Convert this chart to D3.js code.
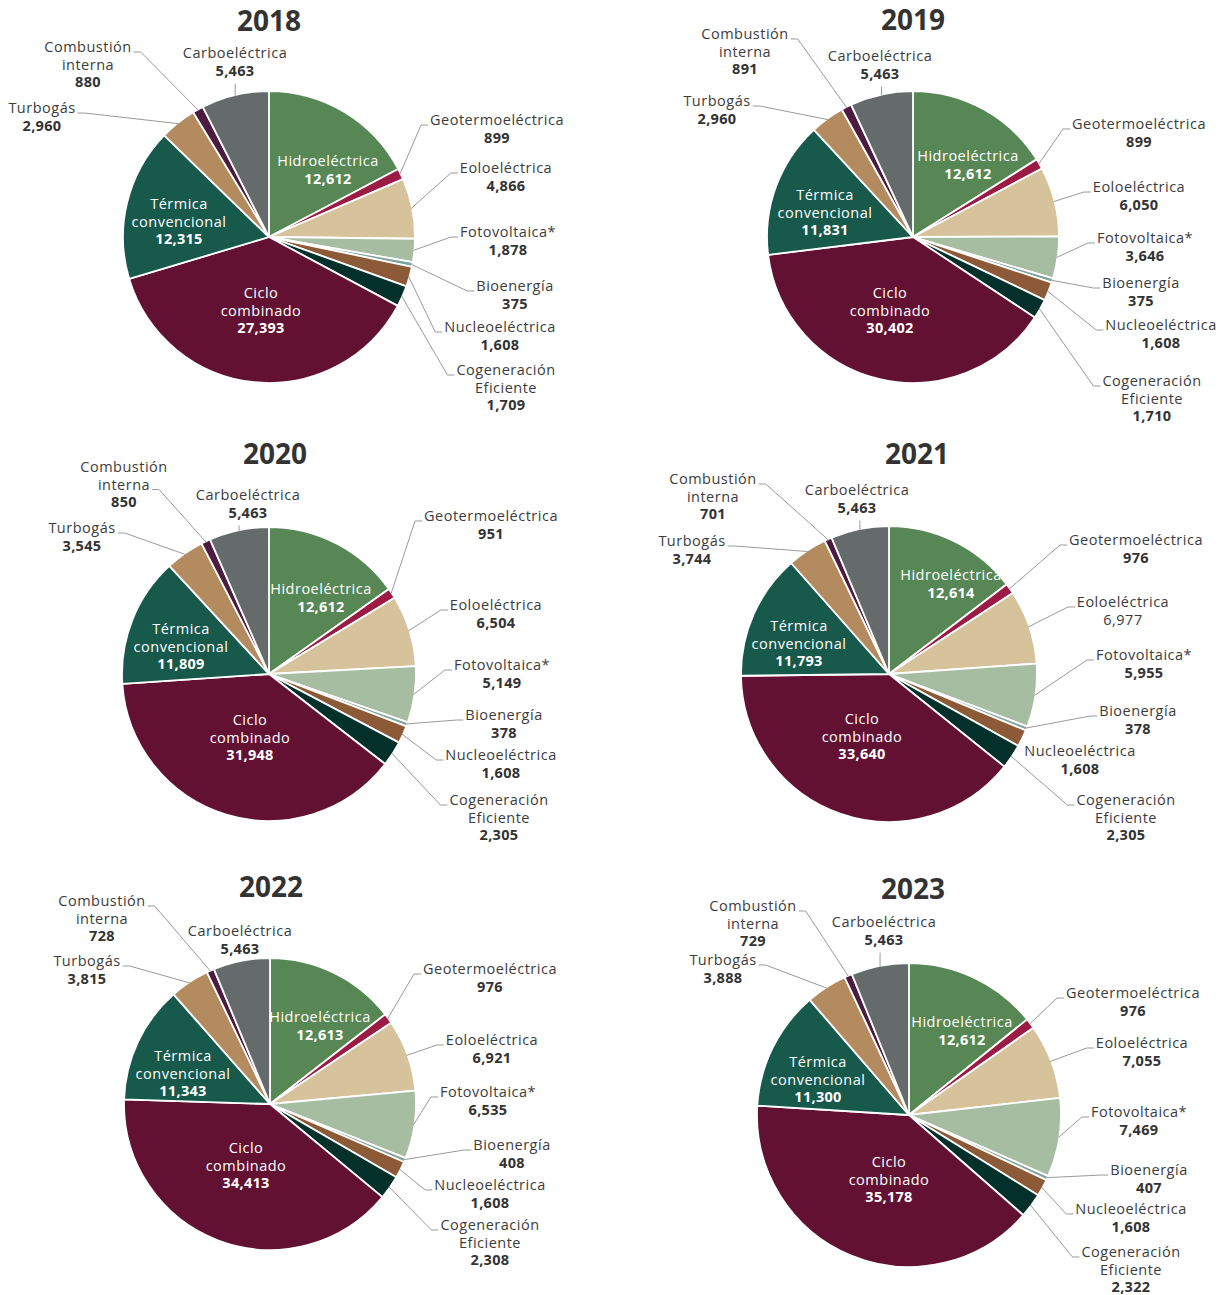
<!DOCTYPE html>
<meta charset="utf-8">

<script src="https://d3js.org/d3.v7.min.js"></script>

<style type="text/css">
  body { margin: 0; background: #fff; }
  text { font-family: "Open Sans", sans-serif; }
  .title { font-size: 28px; font-weight: 700; fill: #333; }
  .lbl { font-size: 14.5px; fill: #3c3c3c; letter-spacing: 0.5px; }
  .val { font-size: 14.5px; font-weight: 700; fill: #333; letter-spacing: 0.3px; }
  .in { font-size: 14.5px; fill: #fff; letter-spacing: 0.5px; }
  .inval { font-size: 14.5px; font-weight: 700; fill: #fff; letter-spacing: 0.3px; }
  .leader { fill: none; stroke: #9a9a9a; stroke-width: 1; }
</style>

<body>
</body>

<script>

var years = ["2018", "2019", "2020", "2021", "2022", "2023"];

var categories = ["Hidroeléctrica", "Geotermoeléctrica", "Eoloeléctrica", "Fotovoltaica*",
  "Bioenergía", "Nucleoeléctrica", "Cogeneración Eficiente", "Ciclo combinado",
  "Térmica convencional", "Turbogás", "Combustión interna", "Carboeléctrica"];

var values2018 = [12612, 899, 4866, 1878, 375, 1608, 1709, 27393, 12315, 2960, 880, 5463];
var values2019 = [12612, 899, 6050, 3646, 375, 1608, 1710, 30402, 11831, 2960, 891, 5463];
var values2020 = [12612, 951, 6504, 5149, 378, 1608, 2305, 31948, 11809, 3545, 850, 5463];
var values2021 = [12614, 976, 6977, 5955, 378, 1608, 2305, 33640, 11793, 3744, 701, 5463];
var values2022 = [12613, 976, 6921, 6535, 408, 1608, 2308, 34413, 11343, 3815, 728, 5463];
var values2023 = [12612, 976, 7055, 7469, 407, 1608, 2322, 35178, 11300, 3888, 729, 5463];

var colors = ["#578755", "#9c1b45", "#d6c39b", "#a7bda1", "#7fa39a", "#8c5a36",
  "#03302a", "#621132", "#17594b", "#b38b5e", "#4b1c40", "#656b6a"];

var allValues = [values2018, values2019, values2020, values2021, values2022, values2023];

// which slices carry their label inside the pie
var inside = { "Hidroeléctrica": 1, "Ciclo combinado": 1, "Térmica convencional": 1 };

var width = 1226, height = 1295;

// layout per panel: pie centre, radius, title, label offsets (block centre x, first line centre y)
var layout = [
  { cx: 269, cy: 237, r: 146, title: [269, 31],
    lab: { "Hidroeléctrica": [59, -76], "Ciclo combinado": [-8, 56], "Térmica convencional": [-90, -33],
      "Geotermoeléctrica": [228, -117], "Eoloeléctrica": [237, -69], "Fotovoltaica*": [239, -5],
      "Bioenergía": [246, 49], "Nucleoeléctrica": [231, 90], "Cogeneración Eficiente": [237, 133],
      "Turbogás": [-227, -129], "Combustión interna": [-181, -190], "Carboeléctrica": [-34, -184] } },
  { cx: 913, cy: 237, r: 146, title: [913, 30],
    lab: { "Hidroeléctrica": [55, -81], "Ciclo combinado": [-23, 56], "Térmica convencional": [-88, -42],
      "Geotermoeléctrica": [226, -113], "Eoloeléctrica": [226, -50], "Fotovoltaica*": [232, 1],
      "Bioenergía": [228, 46], "Nucleoeléctrica": [248, 88], "Cogeneración Eficiente": [239, 144],
      "Turbogás": [-196, -136], "Combustión interna": [-168, -203], "Carboeléctrica": [-33, -181] } },
  { cx: 269, cy: 674, r: 147, title: [275, 464], attach: { "Combustión interna": 1 },
    lab: { "Hidroeléctrica": [52, -85], "Ciclo combinado": [-19, 46], "Térmica convencional": [-88, -45],
      "Geotermoeléctrica": [222, -158], "Eoloeléctrica": [227, -69], "Fotovoltaica*": [233, -9],
      "Bioenergía": [235, 41], "Nucleoeléctrica": [232, 81], "Cogeneración Eficiente": [230, 126],
      "Turbogás": [-187, -146], "Combustión interna": [-145, -207], "Carboeléctrica": [-21, -179] } },
  { cx: 889, cy: 674, r: 148, title: [917, 464], plain: { "Eoloeléctrica": 1 },
    lab: { "Hidroeléctrica": [62, -99], "Ciclo combinado": [-27, 45], "Térmica convencional": [-90, -48],
      "Geotermoeléctrica": [247, -134], "Eoloeléctrica": [234, -72], "Fotovoltaica*": [255, -19],
      "Bioenergía": [249, 37], "Nucleoeléctrica": [191, 77], "Cogeneración Eficiente": [237, 126],
      "Turbogás": [-197, -133], "Combustión interna": [-176, -195], "Carboeléctrica": [-32, -184] } },
  { cx: 270, cy: 1104, r: 146, title: [271, 897],
    lab: { "Hidroeléctrica": [50, -87], "Ciclo combinado": [-24, 44], "Térmica convencional": [-87, -48],
      "Geotermoeléctrica": [220, -135], "Eoloeléctrica": [222, -64], "Fotovoltaica*": [218, -12],
      "Bioenergía": [242, 41], "Nucleoeléctrica": [220, 81], "Cogeneración Eficiente": [220, 121],
      "Turbogás": [-183, -143], "Combustión interna": [-168, -203], "Carboeléctrica": [-30, -173] } },
  { cx: 909, cy: 1115, r: 152, title: [913, 899],
    lab: { "Hidroeléctrica": [53, -93], "Ciclo combinado": [-20, 47], "Térmica convencional": [-91, -53],
      "Geotermoeléctrica": [224, -122], "Eoloeléctrica": [233, -72], "Fotovoltaica*": [230, -3],
      "Bioenergía": [240, 55], "Nucleoeléctrica": [222, 94], "Cogeneración Eficiente": [222, 137],
      "Turbogás": [-186, -155], "Combustión interna": [-156, -209], "Carboeléctrica": [-25, -193] } }
];

var lineH = 17.5;
var fmt = d3.format(",");

var svg = d3.select("body").append("svg")
    .attr("width", width)
    .attr("height", height);

var pie = d3.pie().sort(null).value(function(d) { return d.value; });

years.forEach(function(year, i) {
  var L = layout[i];
  var data = categories.map(function(c, j) { return { name: c, value: allValues[i][j], color: colors[j] }; });
  var arcs = pie(data);
  var arc = d3.arc().innerRadius(0).outerRadius(L.r);

  var g = svg.append("g")
      .attr("transform", "translate(" + L.cx + "," + L.cy + ")");

  svg.append("text")
      .attr("class", "title")
      .attr("x", L.title[0])
      .attr("y", L.title[1])
      .attr("text-anchor", "middle")
      .text(year);

  g.selectAll("path.slice")
      .data(arcs)
    .enter().append("path")
      .attr("class", "slice")
      .attr("d", arc)
      .attr("fill", function(d) { return d.data.color; })
      .attr("stroke", "#fff")
      .attr("stroke-width", 1.8)
      .attr("stroke-linejoin", "round");

  var leaders = g.append("g");
  var labels = g.append("g");

  arcs.forEach(function(a) {
    var name = a.data.name;
    var pos = L.lab[name];
    var isIn = inside[name];
    var lines = name.split(" ");
    if (name == "Fotovoltaica*") lines = [name];
    var plain = L.plain && L.plain[name];

    var t = labels.append("text")
        .attr("text-anchor", "middle");
    lines.forEach(function(s, k) {
      t.append("tspan")
          .attr("class", isIn ? "in" : "lbl")
          .attr("x", pos[0])
          .attr("y", pos[1] + 5 + k * lineH)
          .text(s);
    });
    t.append("tspan")
        .attr("class", isIn ? "inval" : (plain ? "lbl" : "val"))
        .attr("x", pos[0])
        .attr("y", pos[1] + 5 + lines.length * lineH)
        .text(fmt(a.data.value));

    if (isIn) return;

    // point on the slice edge at its middle angle
    var mid = (a.startAngle + a.endAngle) / 2;
    var px = Math.sin(mid) * (L.r - 1),
        py = -Math.cos(mid) * (L.r - 1);

    var k0 = (L.attach && L.attach[name]) || 0;
    var span = t.selectAll("tspan").nodes()[k0];
    var w = span.getComputedTextLength();
    var by = pos[1] + 5 + k0 * lineH;

    var pts;
    if (name == "Carboeléctrica") {
      pts = [[px, py], [px, pos[1] + 5 + lines.length * lineH + 8]];
    } else if (pos[0] > 0) {
      var x0 = pos[0] - w / 2 - 2;
      if (x0 - 7 < px) return;
      pts = [[px, py], [x0 - 7, by], [x0, by]];
    } else {
      var x1 = pos[0] + w / 2 + 2;
      pts = [[px, py], [x1 + 7, by], [x1, by]];
    }

    leaders.append("path")
        .attr("class", "leader")
        .attr("d", d3.line()(pts));
  });
});

</script>
